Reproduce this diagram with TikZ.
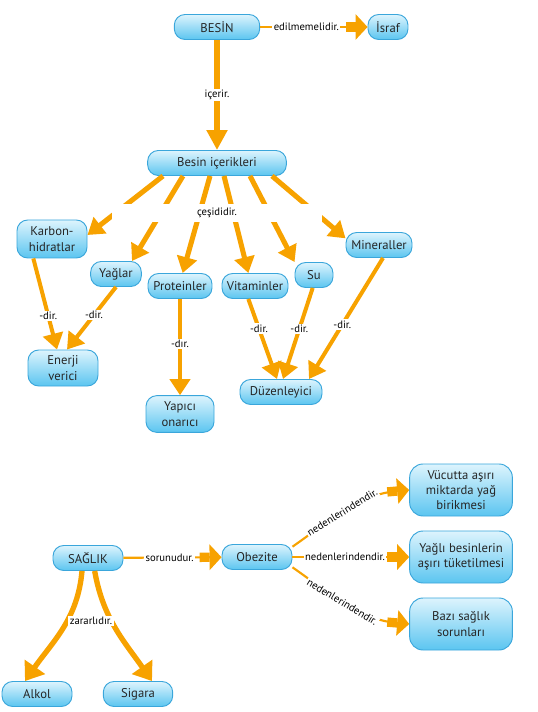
\documentclass[tikz,border=0pt]{standalone}
\usepackage{fontspec}
\setmainfont{PT Sans}
\usetikzlibrary{positioning, arrows.meta, calc}

\definecolor{boxline}{HTML}{3AA6DB}
\definecolor{boxtop}{HTML}{DDF4FD}
\definecolor{boxbottom}{HTML}{5BC5F0}
\definecolor{orangelink}{HTML}{F7A200}

\begin{document}
\begin{tikzpicture}[
    x=0.75pt, y=-0.75pt,
    concept/.style={
        rectangle,
        rounded corners=8pt,
        draw=boxline,
        line width=0.7pt,
        top color=boxtop,
        bottom color=boxbottom,
        minimum height=18.75pt,
        inner sep=2pt,
        align=center,
        text=black!85,
        font=\fontsize{9.5}{11.5}\selectfont
    },
    bigconcept/.style={
        concept,
        rounded corners=10pt,
        minimum width=77pt,
        minimum height=39pt
    },
    arrow_thick/.style={
        orangelink,
        line width=3.8pt,
        -{Triangle[length=12pt, width=15pt]}
    },
    arrow_block/.style={
        orangelink,
        line width=1.6pt,
        -{Rectangle[length=7.5pt, width=7pt] Triangle[length=9pt, width=19pt]}
    },
    link_text/.style={
        fill=white,
        inner sep=1pt,
        text=black,
        font=\fontsize{8}{9.5}\selectfont
    }
]
    \useasboundingbox (0,0) rectangle (537,712);

    % Besin
    \node[concept, minimum width=64pt] (besin) at (217,27) {BESİN};
    \node[concept, minimum width=30pt] (israf) at (388,27) {İsraf};
    \node[concept, minimum width=104pt] (icerik) at (217,163) {Besin içerikleri};

    % Besin content types
    \node[concept, minimum width=52.5pt, minimum height=28.5pt] (karbon) at (52,239) {Karbon-\\hidratlar};
    \node[concept, minimum width=38pt] (yaglar) at (116,274) {Yağlar};
    \node[concept, minimum width=48pt] (protein) at (180,286) {Proteinler};
    \node[concept, minimum width=49.5pt] (vitamin) at (255,286) {Vitaminler};
    \node[concept, minimum width=28.5pt] (su) at (314,275) {Su};
    \node[concept, minimum width=49.5pt] (mineral) at (379,245) {Mineraller};

    % Roles
    \node[concept, minimum width=52.5pt, minimum height=27pt] (enerji) at (63,368) {Enerji\\verici};
    \node[concept, minimum width=51pt, minimum height=27.5pt] (yapici) at (180,414) {Yapıcı\\onarıcı};
    \node[concept, minimum width=61.5pt] (duzen) at (281,392) {Düzenleyici};

    % Saglik
    \node[concept, minimum width=52.5pt] (saglik) at (88,558) {SAĞLIK};
    \node[concept, minimum width=52.5pt] (obezite) at (257,557) {Obezite};
    \node[bigconcept] (vucut) at (461,490) {Vücutta aşırı\\miktarda yağ\\birikmesi};
    \node[bigconcept] (yagli) at (461,557) {Yağlı besinlerin\\aşırı tüketilmesi};
    \node[bigconcept] (bazi) at (461,624) {Bazı sağlık\\sorunları};
    \node[concept, minimum width=52.5pt] (alkol) at (37,694) {Alkol};
    \node[concept, minimum width=52pt] (sigara) at (138,694) {Sigara};

    % Links of besin
    \draw[arrow_block] (besin) -- node[link_text, pos=0.43] {edilmemelidir.} (israf);
    \draw[arrow_thick, line width=4.5pt, -{Triangle[length=15pt, width=15pt]}]
        (besin) -- node[link_text] {içerir.} (icerik);

    \draw[arrow_thick] ([xshift=-40.5pt]icerik.south) -- ([yshift=3pt]karbon.east);
    \draw[arrow_thick] ([xshift=-25.5pt]icerik.south) -- ([xshift=12pt]yaglar.north);
    \draw[arrow_thick] ([xshift=-5.25pt]icerik.south) -- ([xshift=2pt]protein.north);
    \draw[arrow_thick] ([xshift=5.25pt]icerik.south) -- ([xshift=-5pt]vitamin.north);
    \draw[arrow_thick] ([xshift=24.75pt]icerik.south) -- (su.north west);
    \draw[arrow_thick] ([xshift=41.25pt]icerik.south) -- ([yshift=5pt]mineral.west);
    \node[link_text, minimum width=157pt, minimum height=13pt] (cesit) at (217,213) {çeşididir.};

    \draw[arrow_thick, line width=3pt] ([xshift=-14pt]karbon.south) -- node[link_text, pos=0.63] {-dir.} ([xshift=-4.5pt]enerji.north);
    \draw[arrow_thick, line width=3pt] (yaglar.south) -- node[link_text, pos=0.45] {-dir.} ([xshift=3pt]enerji.north);
    \draw[arrow_thick, line width=3pt] (protein.south) -- node[link_text, pos=0.47] {-dır.} (yapici.north);
    \draw[arrow_thick, line width=3pt] ([xshift=-5pt]vitamin.south) -- node[link_text, pos=0.37] {-dir.} ([xshift=-3pt]duzen.north);
    \draw[arrow_thick, line width=3pt] ([xshift=-1pt]su.south) -- node[link_text, pos=0.45] {-dir.} ([xshift=1.5pt]duzen.north);
    \draw[arrow_thick, line width=3pt] ([xshift=3pt]mineral.south) -- node[link_text, pos=0.55] {-dir.} ([xshift=21pt]duzen.north);

    % Links of saglik
    \draw[arrow_block] (saglik) -- node[link_text, pos=0.47] {sorunudur.} (obezite);
    \draw[arrow_thick, line width=4pt, -{Triangle[length=13pt, width=18pt]}]
        ([xshift=-4.5pt]saglik.south) to[out=-95, in=55] ([xshift=-9pt]alkol.north);
    \draw[arrow_thick, line width=4pt, -{Triangle[length=13pt, width=18pt]}]
        ([xshift=5pt]saglik.south) to[out=-80, in=125] ([xshift=10.5pt]sigara.north);
    \node[link_text] (zarar) at (91,621) {zararlıdır.};

    \draw[arrow_block] ([yshift=-2pt]obezite.north east) to[out=35, in=185]
        node[link_text, sloped, pos=0.45] {nedenlerindendir.} (vucut.west);
    \draw[arrow_block] (obezite) -- node[link_text, pos=0.45] {nedenlerindendir.} (yagli);
    \draw[arrow_block] ([yshift=2pt]obezite.south east) to[out=-35, in=175]
        node[link_text, sloped, pos=0.45] {nedenlerindendir.} (bazi.west);
\end{tikzpicture}
\end{document}
